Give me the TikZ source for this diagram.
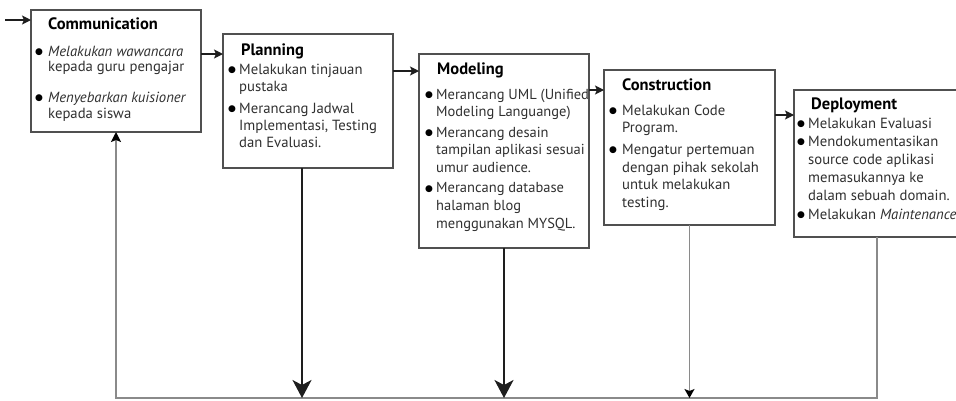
\documentclass[tikz,border=0pt]{standalone}
\usepackage{fontspec}
\setmainfont{PT Sans}
\newfontfamily\symfont{DejaVu Sans}
\usetikzlibrary{arrows.meta,calc}
\definecolor{boxline}{HTML}{505050}
\definecolor{txt}{HTML}{303030}
\definecolor{loopline}{HTML}{8A8A8A}
\definecolor{darkline}{HTML}{1E1E1E}
\newcommand{\bul}[1]{\makebox[#1][l]{\hspace*{-1pt}\raisebox{1.6pt}{\textcolor{black}{\symfont\fontsize{9}{9}\selectfont ●}}}}
\newcommand{\ind}[1]{\hspace*{#1}}
\begin{document}
\begin{tikzpicture}[x=1pt,y=-1pt,
  stage/.style={draw=boxline,line width=1.3pt,fill=white,inner sep=0pt,outer sep=0pt},
  ttl/.style={anchor=base west,inner sep=0pt,font=\fontsize{16.5}{19}\selectfont\bfseries,text=black},
  body/.style={anchor=base west,inner sep=0pt,align=left,text=txt},
  flowarrow/.style={draw=darkline,line width=1.3pt,-{Stealth[length=9pt,width=9pt,inset=2pt]}},
  bigdown/.style={draw=darkline,line width=2pt,-{Stealth[length=18pt,width=19pt,inset=5pt]}},
  smalldown/.style={draw=loopline,line width=1.3pt,-{Stealth[length=9pt,width=10pt,inset=2pt,color=black,fill=black]}},
  feedback/.style={draw=loopline,line width=1.4pt}]
\useasboundingbox (0,0) rectangle (956,400);

% boxes
\node[stage,minimum width=170pt,minimum height=122pt] (comm) at (116,71) {};
\node[stage,minimum width=170pt,minimum height=134pt] (plan) at (308,101) {};
\node[stage,minimum width=170pt,minimum height=194pt] (model) at (504,151) {};
\node[stage,minimum width=171pt,minimum height=155pt] (constr) at (689.5,147.5) {};
\node[stage,minimum width=166pt,minimum height=147pt] (deploy) at (877,163.5) {};

% titles
\node[ttl] (commT) at (48,29.5) {Communication};
\node[ttl] (planT) at (241,55.5) {Planning};
\node[ttl] (modelT) at (437,74.5) {Modeling};
\node[ttl] (constrT) at (622,90.5) {Construction};
\node[ttl] (deployT) at (811,109.5) {Deployment};

% body texts (anchored at the baseline of their last line)
\node[body,font=\fontsize{14.7}{15.5}\selectfont] (commB) at (36,118) {%
\bul{12pt}\textit{Melakukan wawancara}\\
\ind{12pt}kepada guru pengajar\\[15.5pt]
\bul{12pt}\textit{Menyebarkan kuisioner}\\
\ind{12pt}kepada siswa};

\node[body,font=\fontsize{14.7}{17}\selectfont] (planB) at (229,147) {%
\bul{10pt}Melakukan tinjauan\\
\ind{10pt}pustaka\\[5pt]
\bul{10pt}Merancang Jadwal\\
\ind{10pt}Implementasi, Testing\\
\ind{10pt}dan Evaluasi.};

\node[body,font=\fontsize{14.5}{17.7}\selectfont] (modelB) at (426,228) {%
\bul{10pt}Merancang UML (Unified\\
\ind{10pt}Modeling Languange)\\[2.5pt]
\bul{10pt}Merancang desain\\
\ind{10pt}tampilan aplikasi sesuai\\
\ind{10pt}umur audience.\\[2.5pt]
\bul{10pt}Merancang database\\
\ind{10pt}halaman blog\\
\ind{10pt}menggunakan MYSQL.};

\node[body,font=\fontsize{14.7}{17.5}\selectfont] (constrB) at (610,207) {%
\bul{12pt}Melakukan Code\\
\ind{12pt}Program.\\[4.5pt]
\bul{12pt}Mengatur pertemuan\\
\ind{12pt}dengan pihak sekolah\\
\ind{12pt}untuk melakukan\\
\ind{12pt}testing.};

\node[body,font=\fontsize{14.7}{18.2}\selectfont] (deployB) at (798,219) {%
\bul{10pt}Melakukan Evaluasi\\
\bul{10pt}Mendokumentasikan\\
\ind{10pt}source code aplikasi\\
\ind{10pt}memasukannya ke\\
\ind{10pt}dalam sebuah domain.\\
\bul{10pt}Melakukan \textit{Maintenance}};

% forward arrows
\coordinate (start) at (5,20);
\draw[flowarrow] (start) -- (start -| comm.west);
\path ([yshift=17pt]comm.east) coordinate (c1);
\draw[flowarrow] (c1) -- (c1 -| plan.west);
\path ([yshift=30pt]plan.east) coordinate (c2);
\draw[flowarrow] (c2) -- (c2 -| model.west);
\path ([yshift=61pt]model.east) coordinate (c3);
\draw[flowarrow] (c3) -- (c3 -| constr.west);
\path ([yshift=32.5pt]constr.east) coordinate (c4);
\draw[flowarrow] (c4) -- (c4 -| deploy.west);

% feedback loop
\coordinate (fbL) at (116,398);
\coordinate (fbR) at (877,398);
\draw[feedback,-{Stealth[length=10pt,width=10pt,inset=2pt,color=black,fill=black]}]
  (deploy.south) -- (deploy.south |- fbR) -- (fbL) -- (comm.south);
\path ([xshift=-6pt]plan.south) coordinate (p1);
\draw[bigdown] (p1) -- (p1 |- fbL);
\draw[bigdown] (model.south) -- (model.south |- fbL);
\draw[smalldown] (constr.south) -- (constr.south |- fbL);
\end{tikzpicture}
\end{document}
